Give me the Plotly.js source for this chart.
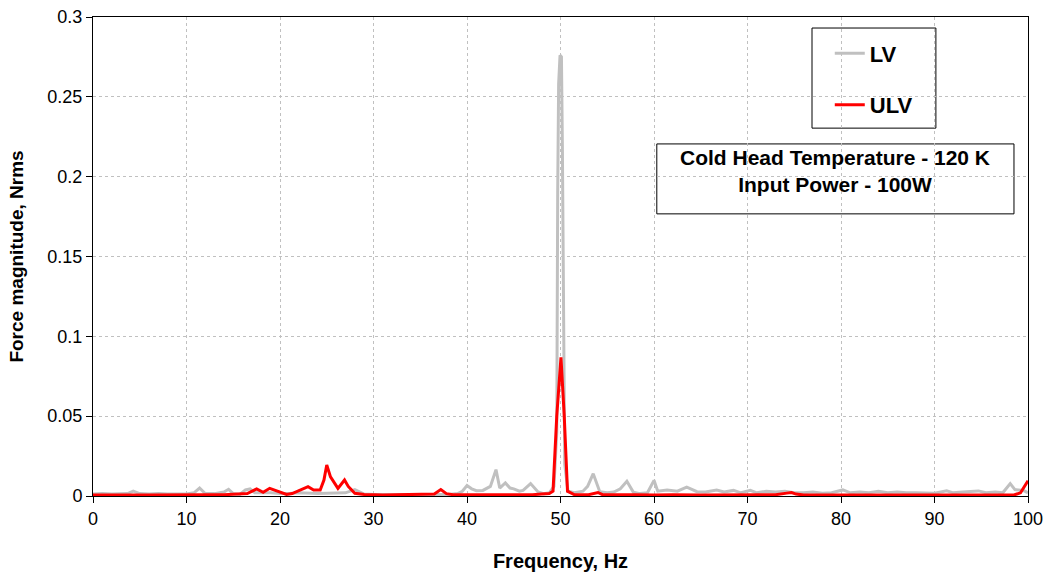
<!DOCTYPE html>
<html>
<head>
<meta charset="utf-8">
<script src="https://cdn.plot.ly/plotly-3.0.1.min.js"></script>
<style>html,body{margin:0;padding:0;background:#fff}#chart{width:1050px;height:577px}</style>
</head>
<body>
<div id="chart"></div>
<script>
// LV series (frequency in Hz, force magnitude in Nrms)
const lvFreq = [0,1,2,3,3.7,4.3,5,6,7,8,9,10,10.8,11.4,12,13,14,14.5,15,15.7,16.3,16.8,17.3,18,19,20,21,22,23,24,25,26,27,28,28.6,29,30,31,32,33,34,35,36,37,38,39,39.5,40,40.5,41,41.7,42.5,43.1,43.5,44.1,44.6,45,45.6,46,46.8,47.6,48.2,48.8,49.3,49.6,49.7,49.8,49.95,50.1,50.2,50.3,50.45,50.8,51.5,52.4,52.9,53.5,54.2,55,55.7,56.4,57.1,57.8,58.5,59.3,60,60.4,61.4,62.5,63.5,64.6,65.5,66.7,67.5,68.5,69.3,70.3,71,72,73,74,75,76,77,78,79,80.2,81,82,83,84,85,86,87,88,89,90,91.3,92,93,94.7,95.5,96.5,97.3,98.1,98.6,99.5,100];
const lvMag = [0.0012,0.0015,0.0012,0.0015,0.0015,0.003,0.0015,0.0012,0.0015,0.0012,0.0012,0.0012,0.002,0.005,0.0015,0.0015,0.0025,0.0042,0.0015,0.001,0.0038,0.0045,0.002,0.002,0.002,0.0015,0.0015,0.002,0.0018,0.0015,0.0018,0.002,0.002,0.004,0.002,0.0012,0.001,0.0008,0.0008,0.001,0.0008,0.001,0.0008,0.001,0.001,0.0015,0.003,0.0065,0.0045,0.0033,0.0035,0.006,0.0165,0.005,0.0082,0.005,0.0045,0.003,0.0035,0.0078,0.0025,0.0015,0.002,0.006,0.04,0.19,0.258,0.276,0.275,0.22,0.12,0.02,0.003,0.002,0.003,0.006,0.014,0.0027,0.002,0.0025,0.0045,0.0092,0.0023,0.0015,0.002,0.0098,0.003,0.0038,0.003,0.0055,0.0027,0.0025,0.0038,0.0025,0.0035,0.002,0.0035,0.002,0.003,0.0025,0.003,0.002,0.002,0.0025,0.0018,0.002,0.0038,0.002,0.0025,0.002,0.003,0.002,0.0025,0.002,0.002,0.0018,0.0018,0.0033,0.002,0.0025,0.0032,0.002,0.0025,0.002,0.0078,0.004,0.0035,0.002];

// ULV series
const ulvFreq = [0,2,4,6,8,10,12,14,15.5,16.5,17.5,18.2,18.9,19.8,20.7,21.3,22.1,23,23.6,24.3,24.7,25,25.4,25.9,26.2,26.9,27.3,28,28.5,29,31,33,35,36.5,37.2,37.8,38.5,40,42,44,46,47,48,48.8,49.2,49.6,50.05,50.4,50.75,51.5,53,54,54.5,56,58,60,62,65,68,70,73,74.2,74.7,75.2,76,80,85,90,95,98.5,99.2,99.6,100];
const ulvMag = [0.0006,0.0008,0.0006,0.0006,0.0008,0.0006,0.0008,0.0008,0.001,0.0015,0.0044,0.0023,0.0048,0.0027,0.001,0.0015,0.0037,0.0058,0.0038,0.0037,0.01,0.0194,0.012,0.008,0.0048,0.01,0.006,0.0017,0.0012,0.001,0.0006,0.0008,0.0008,0.0012,0.004,0.0015,0.0008,0.0008,0.0006,0.0008,0.0006,0.0008,0.0012,0.0015,0.003,0.05,0.0868,0.05,0.003,0.0008,0.0008,0.0022,0.0008,0.0006,0.0008,0.0006,0.0008,0.0006,0.0008,0.0006,0.0008,0.0018,0.0022,0.0012,0.0006,0.0006,0.0006,0.0006,0.0006,0.0006,0.002,0.006,0.0096];

const seriesNames = ['LV', 'ULV'];
const xTitle = 'Frequency, Hz';
const yTitle = 'Force magnitude, Nrms';
const noteText = 'Cold Head Temperature - 120 K<br>Input Power - 100W';

const font = 'Liberation Sans, Arial, sans-serif';

const traces = [
  {x: lvFreq, y: lvMag, name: seriesNames[0], type: 'scatter', mode: 'lines',
   line: {color: '#c0c0c0', width: 3}, legendgroup: 'a'},
  {x: ulvFreq, y: ulvMag, name: seriesNames[1], type: 'scatter', mode: 'lines',
   line: {color: '#ff0000', width: 3}, legendgroup: 'b'}
];

const layout = {
  width: 1050, height: 577,
  margin: {l: 93, r: 22, t: 17, b: 81},
  paper_bgcolor: '#ffffff', plot_bgcolor: '#ffffff',
  font: {family: font, color: '#000'},
  showlegend: true,
  legend: {x: 0.788, y: 0.968, xanchor: 'left', yanchor: 'top',
    bgcolor: 'rgba(0,0,0,0)', borderwidth: 0,
    font: {family: font, size: 22, color: '#000', weight: 'bold'},
    tracegroupgap: 20, traceorder: 'grouped'},
  xaxis: {range: [0, 100], dtick: 10, tick0: 0,
    showgrid: true, gridcolor: '#c0c0c0', griddash: '3px,3px', gridwidth: 1,
    zeroline: false, showline: true, linecolor: '#000', linewidth: 1, mirror: true,
    ticks: 'outside', ticklen: 6, tickcolor: '#000',
    tickfont: {family: font, size: 18, color: '#000'},
    title: {text: xTitle, font: {family: font, size: 20, color: '#000', weight: 'bold'}, standoff: 26}},
  yaxis: {range: [0, 0.3], dtick: 0.05, tick0: 0,
    showgrid: true, gridcolor: '#c0c0c0', griddash: '3px,3px', gridwidth: 1,
    zeroline: false, showline: true, linecolor: '#000', linewidth: 1, mirror: true,
    ticks: 'outside', ticklen: 6, tickcolor: '#000',
    tickfont: {family: font, size: 18, color: '#000'},
    title: {text: yTitle, font: {family: font, size: 19, color: '#000', weight: 'bold'}, standoff: 18}},
  shapes: [
    {type: 'rect', xref: 'paper', yref: 'paper', x0: 0.769, x1: 0.9015, y0: 0.768, y1: 0.977,
     line: {color: '#000', width: 1}, fillcolor: '#ffffff', layer: 'between'},
    {type: 'rect', xref: 'paper', yref: 'paper', x0: 0.603, x1: 0.985, y0: 0.589, y1: 0.735,
     line: {color: '#000', width: 1}, fillcolor: '#ffffff', layer: 'between'}
  ],
  annotations: [
    {xref: 'paper', yref: 'paper', x: 0.794, y: 0.679, xanchor: 'center', yanchor: 'middle',
     text: noteText, showarrow: false, align: 'center',
     font: {family: font, size: 21, color: '#000', weight: 'bold'}}
  ]
};

Plotly.newPlot('chart', traces, layout, {displayModeBar: false, staticPlot: true});
</script>
</body>
</html>
